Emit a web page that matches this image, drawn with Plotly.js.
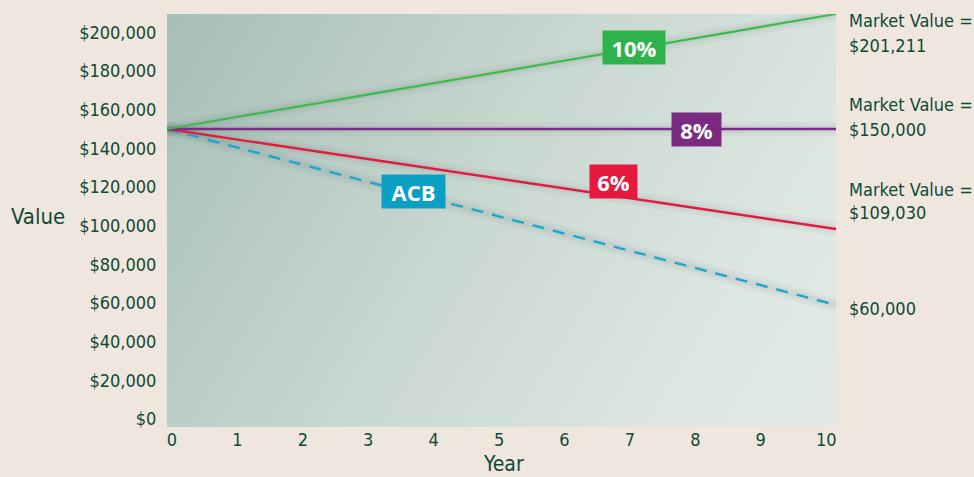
<!DOCTYPE html>
<html><head><meta charset="utf-8">
<script src="https://cdn.plot.ly/plotly-3.0.1.min.js"></script>
<style>body{margin:0;background:#efe6dd}#c{width:974px;height:477px}</style>
</head><body><div id="c"></div>
<script>
// Data
const years = [0, 10];
const rate10 = [150000, 209500];
const rate8 = [150000, 150000];
const rate6 = [150000, 98300];
const acb = [150000, 59000];
const yTickVals = [0,20000,40000,60000,80000,100000,120000,140000,160000,180000,200000];
const yTickText = ['$0','$20,000','$40,000','$60,000','$80,000','$100,000','$120,000','$140,000','$160,000','$180,000','$200,000'];
const xTickVals = [0,1,2,3,4,5,6,7,8,9,10];
const endLabels = [
  {top:'Market Value =', bottom:'$201,211'},
  {top:'Market Value =', bottom:'$150,000'},
  {top:'Market Value =', bottom:'$109,030'},
  {top:'', bottom:'$60,000'}
];

const FONT = '"Liberation Sans Narrow", "DejaVu Sans Condensed", "Roboto", sans-serif';
const TXT = '#0e4a36';

// gradient background image
const cv = document.createElement('canvas');
cv.width = 669; cv.height = 413;
const ctx = cv.getContext('2d');
let g = ctx.createLinearGradient(0, 0, 669, 413);
g.addColorStop(0, '#a6bfb6');
g.addColorStop(0.45, '#c8d7d0');
g.addColorStop(0.8, '#dde6e1');
g.addColorStop(1, '#e3eae6');
ctx.fillStyle = g; ctx.fillRect(0,0,669,413);
const bg = cv.toDataURL('image/png');

const W = 669, H = 413, L = 167, T = 14;
function px(xp){ return (xp - L)/W; }
function py(yp){ return 1 - (yp - T)/H; }

function shadow(y, w, a){
  return {x: years, y: y, mode:'lines', line:{color:'rgba(40,60,50,'+a+')', width:w}, hoverinfo:'skip', showlegend:false};
}
const traces = [];
[rate10, rate8, rate6, acb].forEach(s => { traces.push(shadow(s, 14, 0.035)); traces.push(shadow(s, 7, 0.05)); });
traces.push(
  {x: years, y: acb, mode:'lines', line:{color:'#1ea5d0', width:2.4, dash:'12px,9px'}, name:'ACB'},
  {x: years, y: rate6, mode:'lines', line:{color:'#e31b40', width:2.4}, name:'6%'},
  {x: years, y: rate8, mode:'lines', line:{color:'#7b2d85', width:2.4}, name:'8%'},
  {x: years, y: rate10, mode:'lines', line:{color:'#3dba4c', width:2.2}, name:'10%'},
  {x: [0,10], y: [null,null], xaxis:'x2', mode:'lines', showlegend:false, hoverinfo:'skip'}
);

function box(text, x, y, color, w){
  return {x:x, y:y, xref:'x', yref:'y', text:'<b>'+text+'</b>', showarrow:false,
    bgcolor:color, width:w, height:31, font:{family:'"Open Sans", "DejaVu Sans", sans-serif', size:22, color:'#ffffff'}};
}
const ann = [
  box('10%', 6.98, 192000, '#2eb34c', 60),
  box('8%', 7.92, 150000, '#7b2a82', 47),
  box('6%', 6.67, 122800, '#e5183f', 45),
  box('ACB', 3.69, 117600, '#0aa0c4', 61),
  {xref:'paper', yref:'paper', x:px(38), y:py(216), text:'Value', showarrow:false, xanchor:'center', yanchor:'middle', font:{family:FONT, size:22, color:TXT}},
  {xref:'paper', yref:'paper', x:px(503), y:py(464), text:'Year', showarrow:false, xanchor:'center', yanchor:'middle', font:{family:FONT, size:21, color:TXT}}
];
const endY = [[21,45],[105,129],[189,212],[null,308]];
endLabels.forEach((e,i)=>{
  if (e.top) ann.push({xref:'paper', yref:'paper', x:px(847), y:py(endY[i][0]), text:e.top, showarrow:false, xanchor:'left', yanchor:'middle', font:{family:FONT, size:18, color:TXT}});
  ann.push({xref:'paper', yref:'paper', x:px(847), y:py(endY[i][1]), text:e.bottom, showarrow:false, xanchor:'left', yanchor:'middle', font:{family:FONT, size:18, color:TXT}});
});

const layout = {
  width:974, height:477,
  paper_bgcolor:'#efe6dd', plot_bgcolor:'#c8d7d0',
  margin:{l:L, r:974-L-W, t:T, b:477-T-H, pad:0},
  showlegend:false,
  font:{family:FONT, size:18, color:TXT},
  xaxis:{range:[0,10], showgrid:false, zeroline:false, showticklabels:false, ticks:'', showline:false, fixedrange:true},
  xaxis2:{overlaying:'x', side:'bottom', range:[-0.0765,10.15], tickvals:xTickVals, showgrid:false, zeroline:false, showline:false, ticks:'', tickfont:{family:FONT, size:18, color:TXT}},
  yaxis:{range:[-4100, 209500], tickvals:yTickVals, ticktext:yTickText, showgrid:false, zeroline:false, showline:false, ticks:'outside', ticklen:6, tickcolor:'rgba(0,0,0,0)', tickfont:{family:FONT, size:18, color:TXT}},
  images:[{source:bg, xref:'paper', yref:'paper', x:0, y:1, sizex:1, sizey:1, sizing:'stretch', layer:'below'}],
  annotations: ann
};
Plotly.newPlot('c', traces, layout, {displayModeBar:false, staticPlot:true});
</script></body></html>
